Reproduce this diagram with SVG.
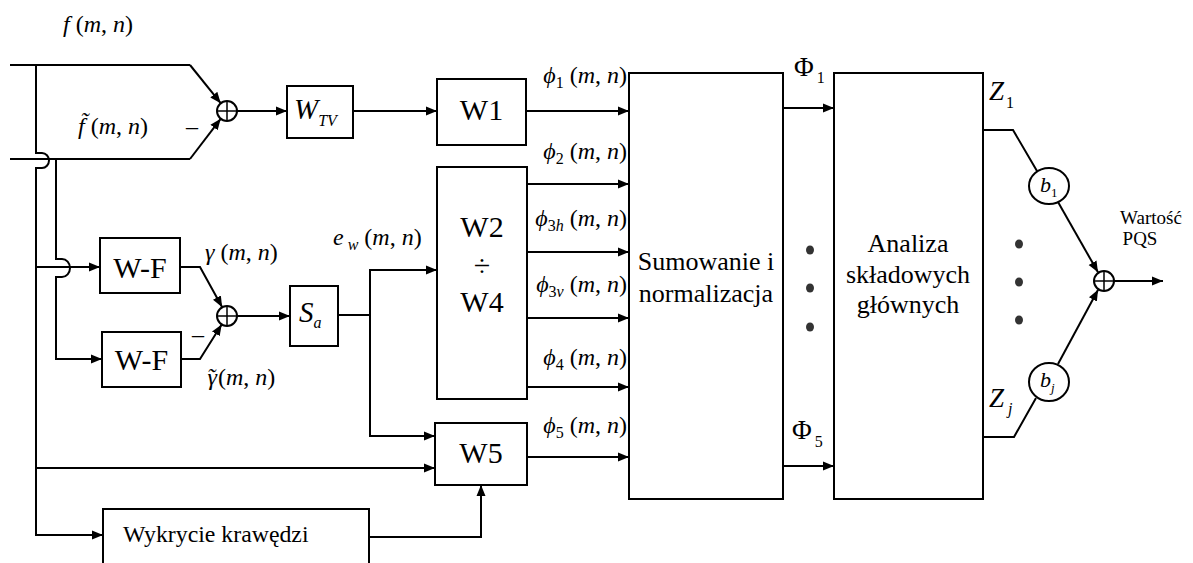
<svg xmlns="http://www.w3.org/2000/svg" width="1193" height="563" viewBox="0 0 1193 563">
<style>
.ln{fill:none;stroke:#000;stroke-width:2}
.ar{fill:none;stroke:#000;stroke-width:2;marker-end:url(#ah)}
.bx{fill:#fff;stroke:#000;stroke-width:2}
.t{font-family:"Liberation Serif","Times New Roman",serif;fill:#000}
.i{font-style:italic}
.big{font-size:30px}
.mid{font-size:26px}
.m{font-size:24px}
.dot{fill:#333}
</style>
<defs>
<marker id="ah" markerUnits="userSpaceOnUse" markerWidth="12" markerHeight="10" refX="11" refY="5" orient="auto">
<path d="M0,0.5 L11,5 L0,9.5 z" fill="#000"/>
</marker>
</defs>
<rect width="1193" height="563" fill="#fff"/>

<g id="connectors">
<path class="ln" d="M10,65 H190"/>
<path class="ar" d="M190,65 L220.7,103.2"/>
<path class="ln" d="M10,159 H190"/>
<path class="ar" d="M190,159 L220.7,118.8"/>
<path class="ar" d="M237,111 H287"/>
<path class="ar" d="M353,111 H437"/>
<path class="ar" d="M526,111 H629"/>
<path class="ar" d="M527,184 H629"/>
<path class="ar" d="M527,252 H629"/>
<path class="ar" d="M527,318 H629"/>
<path class="ar" d="M527,387 H629"/>
<path class="ar" d="M527,457 H629"/>
<path class="ar" d="M783,108 H834"/>
<path class="ar" d="M783,466 H834"/>
<path class="ar" d="M36,65 V153 H42 A7,7.5 0 0 1 42,168 H36 V535 H103"/>
<path class="ar" d="M36,468 H435"/>
<path class="ar" d="M36,267 H100"/>
<path class="ar" d="M56,159 V259 H62 A8,9 0 0 1 62,277 H56 V359 H102"/>
<path class="ar" d="M180,267 H200 L222.2,307.2"/>
<path class="ar" d="M181,359 H200 L221.7,324.5"/>
<path class="ar" d="M237,316 H290"/>
<path class="ln" d="M338,315 H370"/>
<path class="ar" d="M370,315 V270 H437"/>
<path class="ar" d="M370,315 V436 H435"/>
<path class="ar" d="M369,537 H481 V485"/>
<path class="ln" d="M983,130 H1013 L1037,171"/>
<path class="ar" d="M1058,202 L1098,272.3"/>
<path class="ln" d="M983,437 H1014 L1036,398"/>
<path class="ar" d="M1058,364 L1098.1,289.7"/>
<path class="ar" d="M1114,281 H1163"/>
</g>

<g id="sum1">
<circle class="bx" cx="227" cy="111" r="10"/>
<path class="ln" d="M217,111 H237 M227,101 V121" style="stroke-width:1.5"/>
</g>
<g id="sum2">
<circle class="bx" cx="227" cy="316" r="10"/>
<path class="ln" d="M217,316 H237 M227,306 V326" style="stroke-width:1.5"/>
</g>
<g id="sum3">
<circle class="bx" cx="1104" cy="281" r="10"/>
<path class="ln" d="M1094,281 H1114 M1104,271 V291" style="stroke-width:1.5"/>
</g>

<g id="labels-left">
<text class="t m" x="63" y="32"><tspan class="i">f</tspan> (<tspan class="i">m</tspan>, <tspan class="i">n</tspan>)</text>
<text class="t m" x="78" y="134"><tspan class="i">f&#x303;</tspan> (<tspan class="i">m</tspan>, <tspan class="i">n</tspan>)</text>
<text class="t m" x="186" y="134">–</text>
<text class="t m" x="205" y="260"><tspan class="i">γ</tspan> (<tspan class="i">m</tspan>, <tspan class="i">n</tspan>)</text>
<text class="t m" x="207" y="385"><tspan class="i">γ</tspan><tspan class="i" dx="-10">˜</tspan><tspan dx="3">(</tspan><tspan class="i">m</tspan>, <tspan class="i">n</tspan>)</text>
<text class="t m" x="192" y="342">–</text>
<text class="t m" x="333" y="245"><tspan class="i">e</tspan><tspan class="i" font-size="16" dy="5"> w</tspan><tspan dy="-5"> (</tspan><tspan class="i">m</tspan>, <tspan class="i">n</tspan>)</text>
</g>

<g id="wtv">
<rect class="bx" x="287" y="86" width="66" height="52"/>
<text class="t i" x="294" y="119" font-size="29">W<tspan font-size="16" dy="7">TV</tspan></text>
</g>
<g id="w1">
<rect class="bx" x="437" y="79" width="89" height="66"/>
<text class="t big" x="481.5" y="120" text-anchor="middle">W1</text>
</g>
<g id="w2w4">
<rect class="bx" x="437" y="167" width="90" height="232"/>
<text class="t big" x="482" y="237" text-anchor="middle">W2</text>
<text class="t big" x="482" y="276" text-anchor="middle">÷</text>
<text class="t big" x="482" y="312" text-anchor="middle">W4</text>
</g>
<g id="w5">
<rect class="bx" x="435" y="423" width="92" height="62"/>
<text class="t big" x="481" y="463" text-anchor="middle">W5</text>
</g>
<g id="wf1">
<rect class="bx" x="100" y="238" width="80" height="55"/>
<text class="t big" x="140" y="278" text-anchor="middle">W-F</text>
</g>
<g id="wf2">
<rect class="bx" x="102" y="332" width="79" height="55"/>
<text class="t big" x="141.5" y="370" text-anchor="middle">W-F</text>
</g>
<g id="sa">
<rect class="bx" x="290" y="286" width="48" height="60"/>
<text class="t i" x="299" y="322" font-size="29">S<tspan font-size="16" dy="6">a</tspan></text>
</g>
<g id="wykrycie">
<rect class="bx" x="103" y="509" width="266" height="64"/>
<text class="t" x="123" y="542" font-size="23.8">Wykrycie krawędzi</text>
</g>

<g id="phi-labels">
<text class="t m" x="627" y="83" text-anchor="end"><tspan class="i">ϕ</tspan><tspan font-size="16" dy="5">1</tspan><tspan dy="-5"> (</tspan><tspan class="i">m</tspan>, <tspan class="i">n</tspan>)</text>
<text class="t m" x="627" y="159" text-anchor="end"><tspan class="i">ϕ</tspan><tspan font-size="16" dy="5">2</tspan><tspan dy="-5"> (</tspan><tspan class="i">m</tspan>, <tspan class="i">n</tspan>)</text>
<text class="t m" x="627" y="226" text-anchor="end"><tspan class="i">ϕ</tspan><tspan font-size="16" dy="5">3<tspan class="i">h</tspan></tspan><tspan dy="-5"> (</tspan><tspan class="i">m</tspan>, <tspan class="i">n</tspan>)</text>
<text class="t m" x="627" y="292" text-anchor="end"><tspan class="i">ϕ</tspan><tspan font-size="16" dy="5">3<tspan class="i">v</tspan></tspan><tspan dy="-5"> (</tspan><tspan class="i">m</tspan>, <tspan class="i">n</tspan>)</text>
<text class="t m" x="627" y="365" text-anchor="end"><tspan class="i">ϕ</tspan><tspan font-size="16" dy="5">4</tspan><tspan dy="-5"> (</tspan><tspan class="i">m</tspan>, <tspan class="i">n</tspan>)</text>
<text class="t m" x="627" y="433" text-anchor="end"><tspan class="i">ϕ</tspan><tspan font-size="16" dy="5">5</tspan><tspan dy="-5"> (</tspan><tspan class="i">m</tspan>, <tspan class="i">n</tspan>)</text>
</g>

<g id="sumowanie">
<rect class="bx" x="629" y="73" width="154" height="426"/>
<text class="t mid" x="706" y="270" text-anchor="middle">Sumowanie i</text>
<text class="t mid" x="706" y="302" text-anchor="middle">normalizacja</text>
</g>

<g id="mid-labels">
<text class="t" x="794" y="76" font-size="27">Φ<tspan font-size="16" dx="3" dy="7">1</tspan></text>
<text class="t" x="792" y="439" font-size="27">Φ<tspan font-size="16" dx="3" dy="8">5</tspan></text>
<ellipse class="dot" cx="810" cy="250" rx="4" ry="4.5"/>
<ellipse class="dot" cx="810" cy="288" rx="4" ry="4.5"/>
<ellipse class="dot" cx="810" cy="327" rx="4" ry="4.5"/>
</g>

<g id="analiza">
<rect class="bx" x="834" y="73" width="149" height="426"/>
<text class="t mid" x="908" y="252" text-anchor="middle">Analiza</text>
<text class="t mid" x="908" y="283" text-anchor="middle">składowych</text>
<text class="t mid" x="908" y="313" text-anchor="middle">głównych</text>
</g>

<g id="right-labels">
<text class="t i" x="989" y="100" font-size="27">Z<tspan font-style="normal" font-size="16" dx="2" dy="8">1</tspan></text>
<text class="t i" x="989" y="407" font-size="27">Z<tspan font-size="16" dx="4" dy="7">j</tspan></text>
<ellipse class="dot" cx="1019" cy="244" rx="4" ry="4.5"/>
<ellipse class="dot" cx="1019" cy="282" rx="4" ry="4.5"/>
<ellipse class="dot" cx="1019" cy="320" rx="4" ry="4.5"/>
<text class="t" x="1151" y="224" font-size="19" text-anchor="middle">Wartość</text>
<text class="t" x="1140" y="245" font-size="19" text-anchor="middle">PQS</text>
</g>
<g id="b1">
<ellipse class="bx" cx="1049" cy="186" rx="20" ry="18"/>
<text class="t i" x="1040" y="192" font-size="22">b<tspan font-style="normal" font-size="13" dy="5">1</tspan></text>
</g>
<g id="bj">
<ellipse class="bx" cx="1049" cy="382" rx="20" ry="19"/>
<text class="t i" x="1040" y="387" font-size="22">b<tspan font-size="13" dy="5">j</tspan></text>
</g>
</svg>
